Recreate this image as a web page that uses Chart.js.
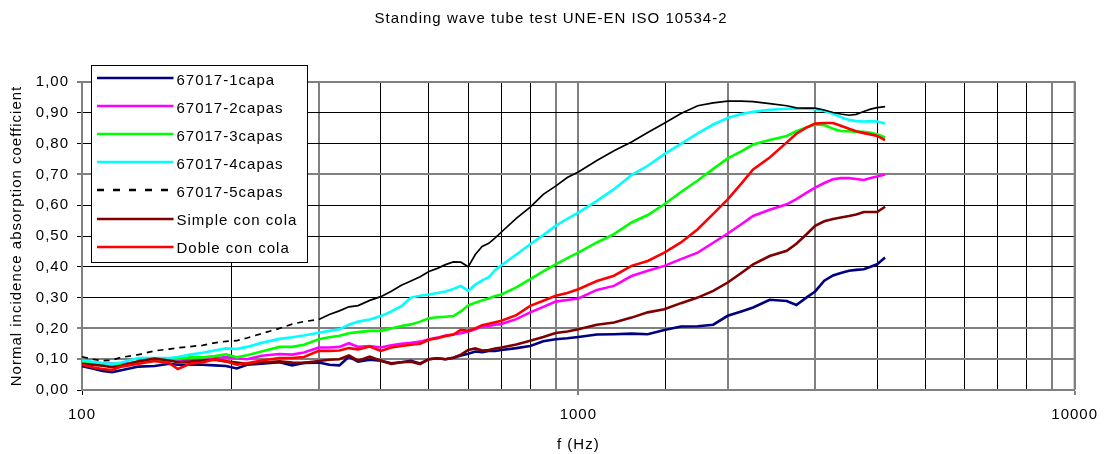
<!DOCTYPE html>
<html>
<head>
<meta charset="utf-8">
<script src="https://cdn.jsdelivr.net/npm/chart.js@4/dist/chart.umd.min.js"></script>
<style>
html,body{margin:0;padding:0;background:#fff;}
canvas{display:block;}
</style>
</head>
<body>
<canvas id="c" width="1109" height="454"></canvas>
<script>
// ---------------- data ----------------
const chartTitle = 'Standing wave tube test UNE-EN ISO 10534-2';
const xTitle = 'f (Hz)';
const yTitle = 'Normal incidence absorption coefficient';
const xTickLabels = [100, 1000, 10000];
const seriesNames = ['67017-1capa', '67017-2capas', '67017-3capas', '67017-4capas', '67017-5capas', 'Simple con cola', 'Doble con cola'];
const seriesColors = ['#000080', '#FF00FF', '#00FF00', '#00FFFF', '#000000', '#800000', '#FF0000'];

const freqs = [100,105,110,115,120,130,140,150,156,165,175,185,195,205,215,230,250,265,280,300,
  315,330,345,360,380,400,420,440,460,480,500,520,540,560,580,600,620,640,660,680,
  700,750,800,850,900,950,1000,1090,1180,1280,1380,1490,1610,1740,1870,2000,2130,2250,2430,2630,
  2750,2880,3000,3130,3260,3380,3510,3630,3760,3880,4000,4150];

const capa1 = [0.077,0.070,0.062,0.058,0.064,0.076,0.078,0.085,0.082,0.082,0.082,0.080,0.078,0.070,0.082,0.085,0.090,0.080,0.088,0.089,
  0.082,0.080,0.108,0.092,0.098,0.095,0.087,0.090,0.095,0.086,0.100,0.103,0.100,0.105,0.112,0.118,0.125,0.123,0.127,0.127,
  0.130,0.136,0.143,0.158,0.165,0.168,0.172,0.180,0.181,0.183,0.181,0.195,0.206,0.207,0.212,0.241,0.255,0.268,0.293,0.289,
  0.276,0.300,0.320,0.355,0.372,0.380,0.387,0.390,0.392,0.400,0.408,0.430];

const capas2 = [0.093,0.090,0.087,0.086,0.085,0.090,0.095,0.096,0.096,0.096,0.097,0.103,0.107,0.103,0.100,0.111,0.117,0.115,0.122,0.138,
  0.138,0.140,0.152,0.140,0.143,0.138,0.145,0.150,0.153,0.157,0.165,0.170,0.177,0.180,0.184,0.190,0.197,0.206,0.208,0.212,
  0.214,0.230,0.252,0.270,0.287,0.292,0.297,0.325,0.338,0.370,0.387,0.403,0.425,0.446,0.478,0.508,0.538,0.565,0.585,0.603,
  0.620,0.640,0.657,0.672,0.684,0.688,0.688,0.685,0.682,0.688,0.693,0.700];

const capas3 = [0.089,0.087,0.085,0.082,0.079,0.093,0.096,0.098,0.101,0.106,0.106,0.110,0.116,0.106,0.113,0.125,0.140,0.140,0.147,0.165,
  0.171,0.176,0.184,0.188,0.192,0.192,0.200,0.208,0.213,0.222,0.233,0.236,0.238,0.240,0.255,0.275,0.283,0.291,0.297,0.305,
  0.310,0.333,0.360,0.385,0.408,0.428,0.446,0.479,0.506,0.544,0.568,0.603,0.643,0.680,0.718,0.752,0.775,0.797,0.812,0.825,
  0.840,0.852,0.862,0.860,0.848,0.841,0.840,0.838,0.838,0.835,0.830,0.820];

const capas4 = [0.096,0.092,0.087,0.085,0.089,0.104,0.104,0.104,0.107,0.115,0.121,0.128,0.135,0.133,0.140,0.153,0.166,0.171,0.177,0.186,
  0.192,0.197,0.212,0.222,0.229,0.240,0.255,0.272,0.300,0.306,0.310,0.315,0.320,0.328,0.338,0.322,0.342,0.356,0.366,0.390,
  0.405,0.440,0.473,0.503,0.533,0.556,0.576,0.614,0.652,0.698,0.728,0.766,0.799,0.833,0.862,0.883,0.896,0.903,0.910,0.913,
  0.913,0.913,0.912,0.906,0.897,0.886,0.877,0.873,0.872,0.873,0.872,0.865];

const capas5 = [0.108,0.100,0.095,0.097,0.106,0.115,0.127,0.133,0.137,0.141,0.145,0.153,0.158,0.160,0.169,0.183,0.200,0.214,0.222,0.229,
  0.245,0.257,0.270,0.274,0.291,0.303,0.321,0.340,0.354,0.368,0.385,0.395,0.407,0.416,0.415,0.400,0.440,0.466,0.476,0.494,
  0.513,0.557,0.594,0.635,0.662,0.690,0.708,0.745,0.777,0.805,0.836,0.866,0.898,0.923,0.932,0.938,0.938,0.936,0.930,0.923,
  0.916,0.915,0.915,0.909,0.901,0.896,0.892,0.895,0.904,0.912,0.917,0.920];

const simpleCola = [0.085,0.082,0.079,0.074,0.079,0.093,0.102,0.096,0.090,0.092,0.096,0.098,0.093,0.089,0.085,0.089,0.093,0.089,0.088,0.094,
  0.098,0.100,0.112,0.095,0.108,0.095,0.085,0.090,0.092,0.084,0.100,0.103,0.100,0.105,0.115,0.130,0.135,0.128,0.130,0.135,
  0.138,0.148,0.160,0.172,0.185,0.190,0.197,0.212,0.219,0.235,0.252,0.262,0.282,0.300,0.322,0.349,0.380,0.408,0.435,0.452,
  0.475,0.505,0.533,0.548,0.555,0.560,0.565,0.570,0.578,0.578,0.578,0.595];

const dobleCola = [0.082,0.074,0.068,0.065,0.076,0.085,0.094,0.087,0.068,0.085,0.089,0.100,0.093,0.082,0.087,0.096,0.104,0.104,0.107,0.127,
  0.127,0.128,0.136,0.132,0.141,0.127,0.138,0.143,0.147,0.150,0.163,0.168,0.175,0.180,0.195,0.192,0.200,0.210,0.215,0.220,
  0.225,0.243,0.273,0.290,0.306,0.315,0.327,0.354,0.371,0.403,0.419,0.446,0.479,0.522,0.572,0.619,0.670,0.716,0.755,0.804,
  0.832,0.852,0.865,0.867,0.867,0.858,0.848,0.840,0.834,0.830,0.825,0.811];

const seriesValues = [capa1, capas2, capas3, capas4, capas5, simpleCola, dobleCola];

// gridlines that look grey/heavier in the reference
const greyX = [300, 900, 1000, 2000, 3000, 9000, 10000];
const greyY = [0.1, 0.2, 0.7, 1.0];

// ---------------- chart ----------------
const FONT = "'Liberation Sans', Arial, sans-serif";
const LS = '1px';
Chart.defaults.font.family = FONT;
Chart.defaults.font.size = 15;
Chart.defaults.color = '#000';

const datasets = seriesNames.map((name, i) => {
  const ds = {
    label: name,
    data: freqs.map((f, k) => ({x: f, y: seriesValues[i][k]})),
    borderColor: seriesColors[i],
    backgroundColor: seriesColors[i],
    borderWidth: i === 4 ? 1.7 : 2.6,
    pointRadius: 0,
    tension: 0,
    fill: false,
    order: seriesNames.length - i
  };
  if (i === 4) {
    ds.segment = { borderDash: c => (c.p0.parsed.x < 290 ? [6, 5] : undefined) };
  }
  return ds;
});

const decor = {
  id: 'decor',
  beforeLayout(chart) { chart.ctx.letterSpacing = LS; },
  beforeDraw(chart) {
    const ctx = chart.ctx;
    ctx.letterSpacing = LS;
    ctx.save();
    ctx.fillStyle = '#fff';
    ctx.fillRect(0, 0, chart.width, chart.height);
    ctx.restore();
  },
  afterDraw(chart) {
    const ctx = chart.ctx;
    const a = chart.chartArea;
    ctx.save();
    ctx.letterSpacing = LS;
    // plot border (top / right)
    ctx.strokeStyle = '#808080';
    ctx.lineWidth = 2;
    ctx.beginPath();
    ctx.moveTo(a.left, a.top);
    ctx.lineTo(a.right, a.top);
    ctx.lineTo(a.right, a.bottom);
    ctx.stroke();
    // title
    ctx.fillStyle = '#000';
    ctx.font = '15px ' + FONT;
    ctx.textAlign = 'center';
    ctx.textBaseline = 'middle';
    ctx.fillText(chartTitle, 551, 19);
    // legend
    const bx = a.left + 9.5, by = a.top - 16.5, bw = 216, bh = 197;
    ctx.fillStyle = '#fff';
    ctx.fillRect(bx, by, bw, bh);
    ctx.strokeStyle = '#000';
    ctx.lineWidth = 1;
    ctx.strokeRect(bx, by, bw, bh);
    ctx.textAlign = 'left';
    chart.data.datasets.forEach((ds, i) => {
      const ly = by + 12.5 + i * 28.1;
      ctx.strokeStyle = ds.borderColor;
      ctx.lineWidth = 2.5;
      ctx.setLineDash(i === 4 ? [7, 9] : []);
      ctx.beginPath();
      ctx.moveTo(bx + 5.5, Math.round(ly));
      ctx.lineTo(bx + 82, Math.round(ly));
      ctx.stroke();
      ctx.setLineDash([]);
      ctx.fillStyle = '#000';
      ctx.fillText(ds.label, bx + 85, ly + 2.5);
    });
    ctx.restore();
  }
};

const isMajor = v => xTickLabels.includes(Math.round(v));
const inList = (list, v) => list.some(g => Math.abs(g - v) < 1e-6 * Math.max(1, g));

new Chart(document.getElementById('c'), {
  type: 'line',
  data: { datasets },
  plugins: [decor],
  options: {
    responsive: false,
    animation: false,
    layout: { padding: { top: 82, right: 29, bottom: 0, left: 0 } },
    plugins: { legend: { display: false }, title: { display: false }, tooltip: { enabled: false } },
    scales: {
      x: {
        type: 'logarithmic',
        min: 100,
        max: 10000,
        afterFit(s) { s.height = 64; },
        grid: {
          color: c => (c.tick && inList(greyX, c.tick.value) ? '#808080' : '#000'),
          lineWidth: c => (c.tick && inList(greyX, c.tick.value) ? 2 : 1),
          tickLength: 5,
          tickColor: c => (c.tick && isMajor(c.tick.value) ? '#000' : 'rgba(0,0,0,0)'),
          tickWidth: 1
        },
        border: { color: '#808080', width: 2 },
        ticks: {
          autoSkip: false,
          maxRotation: 0,
          padding: 11,
          color: '#000',
          callback: v => (isMajor(v) ? String(Math.round(v)) : '')
        },
        title: { display: true, text: xTitle, color: '#000', padding: { top: 0, bottom: 0 } }
      },
      y: {
        type: 'linear',
        min: 0,
        max: 1,
        afterFit(s) { s.width = 82; },
        grid: {
          color: c => (c.tick && inList(greyY, c.tick.value) ? '#808080' : '#000'),
          lineWidth: c => (c.tick && inList(greyY, c.tick.value) ? 2 : 1),
          tickLength: 5,
          tickColor: '#000',
          tickWidth: 1
        },
        border: { color: '#808080', width: 2 },
        ticks: {
          stepSize: 0.1,
          padding: 8,
          color: '#000',
          callback: v => v.toFixed(2).replace('.', ',')
        },
        title: { display: true, text: yTitle, color: '#000', padding: { top: 8, bottom: 0 } }
      }
    }
  }
});
</script>
</body>
</html>
